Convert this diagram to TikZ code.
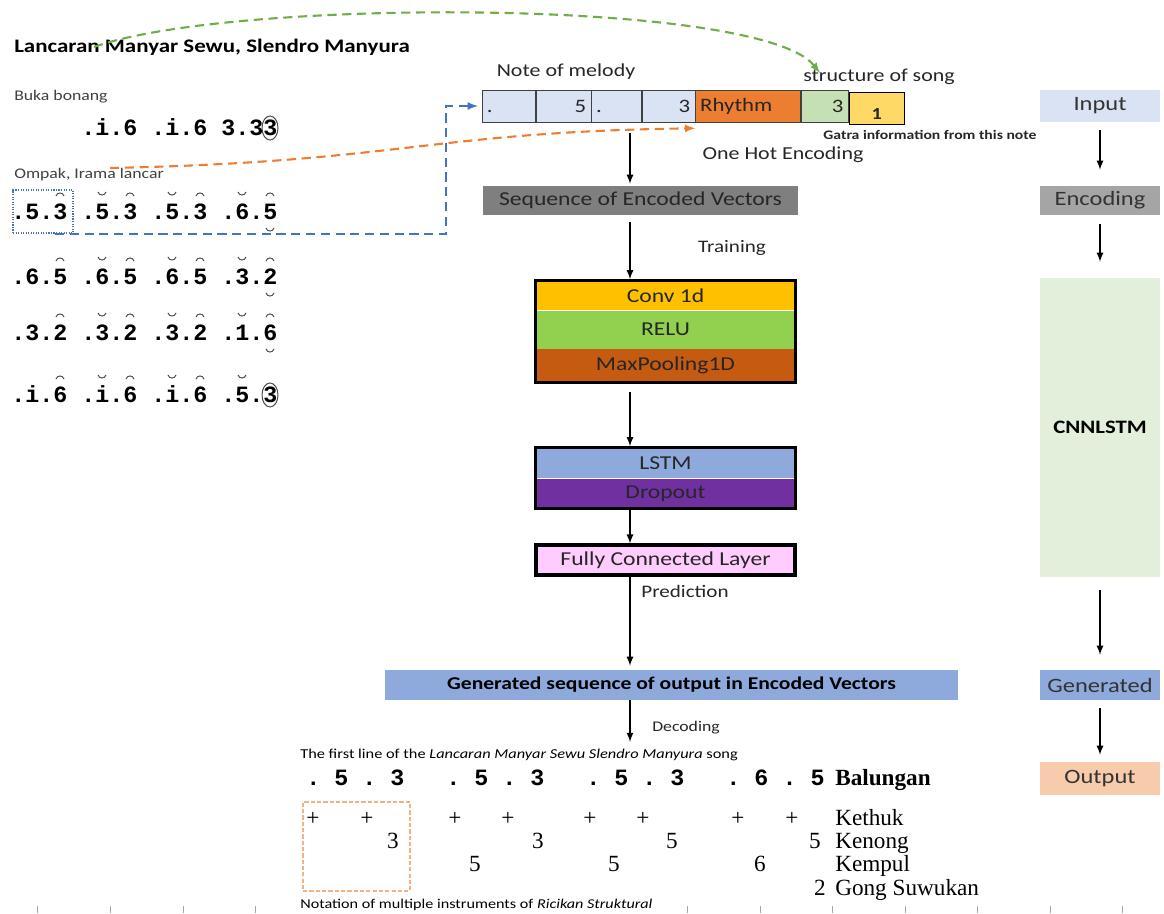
\documentclass[tikz,border=0pt]{standalone}
\usepackage{fontspec}
\setmainfont{Carlito}[FakeStretch=1.2]
\setmonofont{Liberation Mono}
\newfontfamily\timesf{Liberation Serif}
\usetikzlibrary{arrows,positioning,fit,calc,shapes}

\definecolor{cellblue}{HTML}{DAE3F3}
\definecolor{rhythm}{HTML}{ED7D31}
\definecolor{songgreen}{HTML}{C5E0B4}
\definecolor{gatra}{HTML}{FFD966}
\definecolor{seqgray}{HTML}{7F7F7F}
\definecolor{encgray}{HTML}{A5A5A5}
\definecolor{convc}{HTML}{FFC000}
\definecolor{reluc}{HTML}{92D050}
\definecolor{poolc}{HTML}{C55A11}
\definecolor{lstmc}{HTML}{8EA9DB}
\definecolor{dropc}{HTML}{7030A0}
\definecolor{fcc}{HTML}{FFCCFF}
\definecolor{cnnbg}{HTML}{E2EFDA}
\definecolor{outc}{HTML}{F8CBAD}
\definecolor{dblue}{HTML}{4472C4}
\definecolor{dgreen}{HTML}{70AD47}
\definecolor{dorange}{HTML}{ED7D31}

\begin{document}
\begin{tikzpicture}[x=0.025cm,y=-0.025cm,
    arr/.style={line width=1.2pt,-latex},
    link/.style={line width=1.5pt,dash pattern=on 6.5pt off 4pt,-latex},
    cell/.style={draw=black!75,fill=cellblue,minimum width=#1*0.025cm,minimum height=0.8cm,inner sep=0},
    lyr/.style={minimum width=6.475cm,minimum height=#1*0.025cm,inner sep=0,text=black!85,font=\fontsize{14}{16}\selectfont},
    block/.style={draw,line width=2.2pt,inner sep=0},
    side/.style={minimum width=3cm,minimum height=#1*0.025cm,inner sep=0,text=black!80,font=\fontsize{14.5}{16}\selectfont},
    notes/.style={anchor=base west,inner sep=0,font=\ttfamily\bfseries\fontsize{16.6}{18}\selectfont},
    gam/.style={anchor=base,inner sep=0,font=\timesf\fontsize{16.5}{18}\selectfont},
    note/.style={inner sep=0,text=black!85,font=\fontsize{12.5}{14}\selectfont},
    accent/.style={line width=0.7pt,black!70},
    every label/.style={text=black!85,font=\fontsize{13.5}{15}\selectfont}]
  \useasboundingbox (0,0) rectangle (1164,914);

  % song text on the left
  \node[anchor=west,inner sep=0,font=\bfseries\fontsize{13.6}{15}\selectfont] (title) at (14,47) {Lancaran Manyar Sewu, Slendro Manyura};
  \node[anchor=west,inner sep=0,text=black!75,font=\fontsize{10.5}{12}\selectfont] (buka) at (14,97) {Buka bonang};
  \node[anchor=west,inner sep=0,text=black!75,font=\fontsize{10.5}{12}\selectfont] (ompak) at (14,175) {Ompak, Irama lancar};
  \node[notes] (bk) at (81,135) {.i.6 .i.6 3.33};
  \foreach \r/\yb/\txt in {1/219/{.5.3 .5.3 .5.3 .6.5},2/284/{.6.5 .6.5 .6.5 .3.2},3/340/{.3.2 .3.2 .3.2 .1.6},4/402/{.i.6 .i.6 .i.6 .5.3}}
    \node[notes] (row\r) at (11,\yb) {\txt};
  \foreach \r in {1,...,4}{
    \foreach \i in {3,8,13}
      \draw[accent] ($(row\r.base west)+(3+14*\i,-23)$) .. controls +(1,-4) and +(-1,-4) .. +(8,0);
    \foreach \i in {6,11,16}
      \draw[accent] ($(row\r.base west)+(3+14*\i,-27)$) .. controls +(1,4) and +(-1,4) .. +(8,0);
  }
  \foreach \r in {1,2,3}{
    \draw[accent] ($(row\r.base west)+(3+14*18,-23)$) .. controls +(1,-4) and +(-1,-4) .. +(8,0);
    \draw[accent] ($(row\r.base west)+(3+14*18,9)$) .. controls +(1,4) and +(-1,4) .. +(8,0);
  }
  \draw[accent] ($(bk.base west)+(7+14*13,-7)$) ellipse [x radius=8,y radius=12];
  \draw[accent] ($(row4.base west)+(7+14*18,-7)$) ellipse [x radius=8,y radius=12];
  \node[draw=dblue,densely dotted,line width=0.8pt,minimum width=1.5cm,minimum height=1.075cm,inner sep=0] (pick) at (43,211.5) {};

  % input vector
  \node[cell=53,anchor=west,label={[anchor=west]west:{.\vphantom{5}}}] (c1) at (482,106) {};
  \node[cell=55,right=0pt of c1,label={[anchor=east]east:5}] (c2) {};
  \node[cell=50,right=0pt of c2,label={[anchor=west]west:{.\vphantom{5}}}] (c3) {};
  \node[cell=53,right=0pt of c3,label={[anchor=east]east:3}] (c4) {};
  \node[cell=105,fill=rhythm,right=0pt of c4,label={[anchor=west]west:Rhythm}] (rhy) {};
  \node[cell=47,fill=songgreen,right=0pt of rhy,label={[anchor=east]east:3}] (sng) {};
  \node[cell=55,fill=gatra,draw=black,anchor=north west,label={[anchor=south,font=\bfseries\fontsize{12}{14}\selectfont]south:1}] (gat) at (849,92) {};
  \node[note,font=\fontsize{13}{15}\selectfont] (mel) at (566,72) {Note of melody};
  \node[note,anchor=west,font=\fontsize{13}{15}\selectfont] (song) at (803,77) {structure of song};
  \node[note,font=\bfseries\fontsize{9.3}{11}\selectfont] (gtext) at (930,135) {Gatra information from this note};
  \node[note,font=\fontsize{13}{15}\selectfont] (ohe) at (783,155) {One Hot Encoding};

  % model
  \node[fill=seqgray,minimum width=7.875cm,minimum height=0.725cm,inner sep=0,text=black!85,font=\fontsize{14}{16}\selectfont] (seq) at (640.5,200.5) {Sequence of Encoded Vectors};
  \node[lyr=29,fill=convc] (conv) at (665.5,295.5) {Conv 1d};
  \node[lyr=38,fill=reluc,below=0pt of conv] (relu) {RELU};
  \node[lyr=33,fill=poolc,below=0pt of relu] (pool) {MaxPooling1D};
  \node[block,fit=(conv)(pool)] (cnn) {};
  \node[lyr=30,fill=lstmc] (lstm) at (665.5,463) {LSTM};
  \node[lyr=30,fill=dropc,below=0pt of lstm] (drop) {Dropout};
  \node[block,fit=(lstm)(drop)] (rnn) {};
  \node[lyr=30,fill=fcc,draw,line width=2.2pt] (fc) at (665.5,560) {Fully Connected Layer};
  \node[fill=lstmc,minimum width=14.325cm,minimum height=0.75cm,inner sep=0,font=\bfseries\fontsize{12.8}{14}\selectfont] (gen) at (671.5,685) {Generated sequence of output in Encoded Vectors};
  \node[note] (train) at (732,248) {Training};
  \node[note] (pred) at (685,591) {Prediction};
  \node[note,font=\fontsize{10.5}{12}\selectfont] (dec) at (686,728) {Decoding};

  % right column
  \node[side=32,fill=cellblue] (in) at (1100,106) {Input};
  \node[side=29,fill=encgray] (enc) at (1100,200.5) {Encoding};
  \node[side=299,fill=cnnbg,text=black,font=\bfseries\fontsize{13.5}{15}\selectfont] (cl) at (1100,427.5) {CNNLSTM};
  \node[side=30,fill=lstmc] (gen2) at (1100,685) {Generated};
  \node[side=33,fill=outc] (out) at (1100,778.5) {Output};

  % bottom notation
  \node[anchor=west,inner sep=0,font=\fontsize{9.7}{11}\selectfont] (first) at (300,755) {The first line of the \textit{Lancaran Manyar Sewu Slendro Manyura} song};
  \node[notes] (bal) at (306,785) {. 5 . 3~~~. 5 . 3~~~. 5 . 3~~~. 6 . 5};
  \node[gam,anchor=base west,font=\timesf\bfseries\fontsize{16.5}{18}\selectfont] (balu) at (835,785) {Balungan};
  \foreach \x [count=\k] in {313,367,455,508,590,643,738,792}
    \node[gam] (ket\k) at (\x,825) {+};
  \node[gam,anchor=base west] (ketl) at (835,825) {Kethuk};
  \foreach \x/\d [count=\k] in {393/3,538/3,672/5,815/5}
    \node[gam] (ken\k) at (\x,848) {\d};
  \node[gam,anchor=base west] (kenl) at (835,848) {Kenong};
  \foreach \x/\d [count=\k] in {475/5,614/5,760/6}
    \node[gam] (kem\k) at (\x,871) {\d};
  \node[gam,anchor=base west] (keml) at (835,871) {Kempul};
  \node[gam] (gong) at (820,895) {2};
  \node[gam,anchor=base west] (gongl) at (835,895) {Gong Suwukan};
  \node[draw=dorange!60,dash pattern=on 3pt off 1.5pt,line width=0.9pt,minimum width=2.675cm,minimum height=2.225cm,inner sep=0] (ricik) at (356.5,846.5) {};
  \node[anchor=west,inner sep=0,font=\fontsize{9.6}{11}\selectfont] (notat) at (300,905) {Notation of multiple instruments of \textit{Ricikan Struktural}};
  \foreach \x in {37,110,183,255,687,760,832,905,977,1050,1122}
    \draw[black!35] (\x,906) -- (\x,913);

  % arrows
  \coordinate (ax) at (630,0);
  \coordinate (bend) at (446,0);
  \draw[arr,shorten <=0.275cm,shorten >=0.05cm] (c3.south -| ax) -- (seq.north -| ax);
  \draw[arr,shorten <=0.175cm] (seq.south -| ax) -- (cnn.north -| ax);
  \draw[arr,shorten <=0.2cm] (cnn.south -| ax) -- (rnn.north -| ax);
  \draw[arr] (rnn.south -| ax) -- (fc.north -| ax);
  \draw[arr,shorten >=0.1cm] (fc.south -| ax) -- (gen.north -| ax);
  \draw[arr,shorten >=0.175cm] (gen.south -| ax) -- (first.north -| ax);
  \draw[arr,shorten <=0.2cm,shorten >=0.4cm] (in.south) -- (enc.north);
  \draw[arr,shorten <=0.225cm,shorten >=0.4cm] (enc.south) -- (cl.north);
  \draw[arr,shorten <=0.325cm,shorten >=0.375cm] (cl.south) -- (gen2.north);
  \draw[arr,shorten <=0.2cm,shorten >=0.175cm] (gen2.south) -- (out.north);
  \draw[link,dblue,shorten >=0.1cm] ([xshift=0.3cm]pick.south) -- (pick.south -| bend) |- (c1.west);
  \draw[link,dorange] ([xshift=2.4cm,yshift=0.175cm]ompak.west) .. controls (400,162) and (430,132) .. ([yshift=-0.15cm]rhy.south west);
  \draw[link,dgreen] ([xshift=2cm]title.west) .. controls (230,-2) and (760,-2) .. ([xshift=0.425cm,yshift=-0.1cm]song.north west);
\end{tikzpicture}
\end{document}
